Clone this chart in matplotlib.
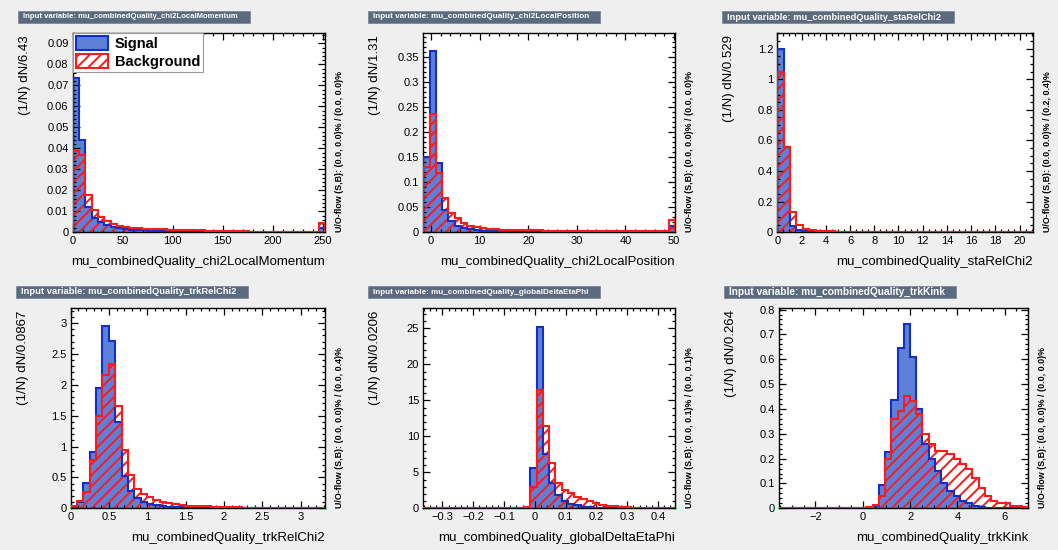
import numpy as np
import matplotlib
matplotlib.use('Agg')
import matplotlib.pyplot as plt
from matplotlib.patches import Rectangle, Patch
from matplotlib.ticker import AutoMinorLocator, FuncFormatter, MultipleLocator

plt.rcParams['font.family'] = ['Liberation Sans', 'DejaVu Sans']
plt.rcParams['hatch.linewidth'] = 1.4

# ---- data (40 bins each) ----
variables = ['mu_combinedQuality_chi2LocalMomentum', 'mu_combinedQuality_chi2LocalPosition',
             'mu_combinedQuality_staRelChi2', 'mu_combinedQuality_trkRelChi2',
             'mu_combinedQuality_globalDeltaEtaPhi', 'mu_combinedQuality_trkKink']
bin_widths = ['6.43', '1.31', '0.529', '0.0867', '0.0206', '0.264']
uo_flow = ['(0.0, 0.0)% / (0.0, 0.0)%', '(0.0, 0.0)% / (0.0, 0.0)%',
           '(0.0, 0.0)% / (0.2, 0.4)%', '(0.0, 0.0)% / (0.0, 0.4)%',
           '(0.0, 0.1)% / (0.0, 0.1)%', '(0.0, 0.0)% / (0.0, 0.0)%']
x_ranges = [(0, 252.3), (-1.58, 50.2), (0, 21.1), (0, 3.317), (-0.362, 0.455), (-3.53, 7.0)]

sig_chi2mom = [0.0733, 0.0440, 0.0120, 0.0070, 0.0048, 0.0035, 0.0026, 0.0020, 0.0016, 0.0013,
               0.0011, 0.0009, 0.0008, 0.0007, 0.0006, 0.0005, 0.0005, 0.0004, 0.0003, 0.0003,
               0.0003, 0.0002, 0.0002, 0.0002, 0.0002, 0.0001, 0.0001, 0.0001, 0.0001, 0.0001,
               0, 0, 0, 0, 0, 0, 0, 0, 0, 0.0020]
bkg_chi2mom = [0.0387, 0.0368, 0.0178, 0.0106, 0.0074, 0.0052, 0.0038, 0.0030, 0.0025, 0.0021,
               0.0019, 0.0017, 0.0016, 0.0015, 0.0014, 0.0013, 0.0013, 0.0012, 0.0011, 0.0010,
               0.0009, 0.0008, 0.0007, 0.0006, 0.0005, 0.0005, 0.0004, 0.0004, 0.0003, 0.0002,
               0.0001, 0.0001, 0.0001, 0.0001, 0, 0, 0, 0, 0, 0.0042]

sig_chi2pos = [0.15, 0.361, 0.1375, 0.045, 0.022, 0.013, 0.009, 0.006, 0.0045, 0.0035,
               0.003, 0.0025, 0.002, 0.0018, 0.0016, 0.0014, 0.0012, 0.001, 0.001, 0.0009,
               0.0008, 0.0008, 0.0007, 0.0007, 0.0006, 0.0006, 0.0005, 0.0005, 0.0005, 0.0004,
               0.0004, 0.0004, 0.0004, 0.0003, 0.0003, 0.0003, 0.0003, 0.0003, 0.0003, 0.012]
bkg_chi2pos = [0.13, 0.237, 0.1176, 0.0678, 0.038, 0.028, 0.018, 0.013, 0.010, 0.008,
               0.0068, 0.006, 0.0054, 0.005, 0.0046, 0.0043, 0.004, 0.0038, 0.0036, 0.0034,
               0.0032, 0.003, 0.0029, 0.0028, 0.0027, 0.0026, 0.0025, 0.0024, 0.0023, 0.0022,
               0.0021, 0.002, 0.002, 0.0019, 0.0018, 0.0018, 0.0017, 0.0016, 0.0016, 0.025]

sig_starel = [1.2, 0.558, 0.04, 0.012, 0.006, 0.004, 0.003, 0.002, 0.001, 0.001] + [0] * 30
bkg_starel = [1.047, 0.558, 0.134, 0.048, 0.022, 0.015, 0.011, 0.009, 0.007, 0.005,
              0.002, 0.001] + [0] * 28

sig_trkrel = [0.02, 0.107, 0.405, 0.908, 1.946, 2.956, 2.713, 1.405, 0.52, 0.28,
              0.16, 0.1, 0.07, 0.05, 0.035, 0.025, 0.018, 0.014, 0.011, 0.009,
              0.007, 0.006, 0.005, 0.004, 0.003, 0.003, 0.002, 0.002, 0.001, 0.001,
              0.001, 0.001, 0.001, 0, 0, 0, 0, 0, 0, 0]
bkg_trkrel = [0.04, 0.12, 0.27, 0.78, 1.5, 2.16, 2.34, 1.65, 0.95, 0.54,
              0.32, 0.23, 0.18, 0.14, 0.1, 0.08, 0.065, 0.055, 0.045, 0.038,
              0.033, 0.03, 0.027, 0.025, 0.022, 0.02, 0.015, 0.01, 0.008, 0.006,
              0.005, 0.004, 0.003, 0.002, 0.002, 0.001, 0.001, 0.001, 0.001, 0.001]

sig_deta = [0] * 16 + [0.05, 5.55, 25.2, 7.5, 3.5, 1.8, 1.0, 0.6, 0.4, 0.25,
                       0.15, 0.1, 0.07, 0.05, 0.03, 0.02, 0.015, 0.01, 0.008, 0.005,
                       0.004, 0.003, 0.002, 0.002]
bkg_deta = [0] * 16 + [0.2, 3.0, 16.4, 11.4, 6.3, 3.56, 2.5, 2.1, 1.6, 1.3,
                       0.95, 0.72, 0.52, 0.38, 0.27, 0.18, 0.12, 0.08, 0.05, 0.03,
                       0.02, 0.015, 0.01, 0.008]

sig_kink = [0] * 14 + [0.003, 0.01, 0.093, 0.227, 0.434, 0.647, 0.74, 0.607, 0.40, 0.26,
                       0.2, 0.15, 0.1, 0.07, 0.05, 0.03, 0.02, 0.01, 0.005, 0.003,
                       0.002, 0.001, 0, 0, 0, 0]
bkg_kink = [0] * 13 + [0.002, 0.005, 0.015, 0.05, 0.2, 0.36, 0.39, 0.45, 0.43, 0.38,
                       0.3, 0.26, 0.23, 0.23, 0.22, 0.2, 0.18, 0.16, 0.12, 0.08,
                       0.05, 0.03, 0.02, 0.02, 0.01, 0.01, 0.005]

signals = [sig_chi2mom, sig_chi2pos, sig_starel, sig_trkrel, sig_deta, sig_kink]
backgrounds = [bkg_chi2mom, bkg_chi2pos, bkg_starel, bkg_trkrel, bkg_deta, bkg_kink]

# ---- layout / style ----
W, H = 1058, 550
boxes = [(72.7, 33.3, 325, 232.3), (423.3, 33.3, 675, 232.3), (777.3, 33.3, 1033, 232.3),
         (70.7, 308.3, 325, 508.3), (423.3, 308.3, 675, 508.3), (779.3, 308.3, 1028.3, 508.3)]
y_max = [0.0948, 0.397, 1.3, 3.24, 27.8, 0.805]
x_step = [50, 10, 2, 0.5, 0.1, 2]
y_step = [0.01, 0.05, 0.2, 0.5, 5, 0.1]
x_minor = [5, 5, 4, 5, 5, 4]
y_minor = [5, 5, 4, 5, 5, 5]

sig_fill = '#5f80d8'
sig_line = '#1030c8'
bkg_col = '#ff1a1a'


def fx(x):
    return x / W


def fy(y):
    return 1 - y / H


def fmt(v, pos):
    return f'{round(v, 8) + 0.0:g}'.replace('-', '\u2212')


fig = plt.figure(figsize=(W / 100, H / 100), dpi=100, facecolor='#efefef')
renderer = fig.canvas.get_renderer()

for i in range(6):
    l, t, r, b = boxes[i]
    ax = fig.add_axes([fx(l), fy(b), fx(r - l), (b - t) / H])
    ax.set_facecolor('white')
    lo, hi = x_ranges[i]
    sig = np.array(signals[i])
    bkg = np.array(backgrounds[i])
    edges = np.linspace(lo, hi, len(sig) + 1)

    ax.stairs(sig, edges, fill=True, facecolor=sig_fill, lw=0, zorder=1)
    ax.stairs(bkg, edges, fill=True, facecolor='none', edgecolor=bkg_col, hatch='///', lw=0, zorder=2)
    ax.stairs(sig, edges, color=sig_line, lw=1.5, zorder=3)
    ax.stairs(bkg, edges, color=bkg_col, lw=1.5, zorder=4)

    ax.set_xlim(lo, hi)
    ax.set_ylim(0, y_max[i])
    ax.xaxis.set_major_locator(MultipleLocator(x_step[i]))
    ax.yaxis.set_major_locator(MultipleLocator(y_step[i]))
    ax.xaxis.set_minor_locator(AutoMinorLocator(x_minor[i]))
    ax.yaxis.set_minor_locator(AutoMinorLocator(y_minor[i]))
    ax.xaxis.set_major_formatter(FuncFormatter(fmt))
    ax.yaxis.set_major_formatter(FuncFormatter(fmt))
    ax.tick_params(which='both', direction='in', top=True, right=True, width=0.9, labelsize=8)
    ax.tick_params(which='major', length=5, pad=3)
    ax.tick_params(which='minor', length=2.5)
    for sp in ax.spines.values():
        sp.set_linewidth(1.0)

    # axis titles, ROOT style
    fig.text(fx(r), fy(b + 30), variables[i], ha='right', va='center', fontsize=9.5)
    fig.text(fx(l - 48), fy(t + 2), '(1/N) dN/' + bin_widths[i], rotation=90,
             ha='center', va='top', fontsize=9.5)
    fig.text(fx(r + 14), fy(b), 'U/O-flow (S,B): ' + uo_flow[i], rotation=90,
             ha='center', va='bottom', fontsize=6.4, fontweight='bold')

    # title box
    fig.add_artist(Rectangle((fx(l - 55), fy(t - 10)), fx(232), 12.5 / H,
                             transform=fig.transFigure, facecolor='#5b6a7e',
                             edgecolor='#7d8898', lw=0.6))
    tt = fig.text(fx(l - 50), fy(t - 16.3), 'Input variable: ' + variables[i],
                  ha='left', va='center', color='white', fontsize=6, fontweight='bold')
    wpx = tt.get_window_extent(renderer).width
    tt.set_fontsize(6 * 218 / wpx)

    if i == 0:
        handles = [Patch(facecolor=sig_fill, edgecolor=sig_line, lw=1.5, label='Signal'),
                   Patch(facecolor='white', edgecolor=bkg_col, hatch='///', lw=1.5,
                         label='Background')]
        leg = ax.legend(handles=handles, loc='upper left', bbox_to_anchor=(0, 1),
                        borderaxespad=0, fancybox=False, edgecolor='#999999',
                        framealpha=1, prop={'weight': 'bold', 'size': 10.5},
                        borderpad=0.2, labelspacing=0.2, handlelength=2.2,
                        handleheight=1.1, handletextpad=0.5)
        leg.get_frame().set_linewidth(0.8)
        leg.set_zorder(10)

fig.savefig('out.png', dpi=100, facecolor=fig.get_facecolor())
